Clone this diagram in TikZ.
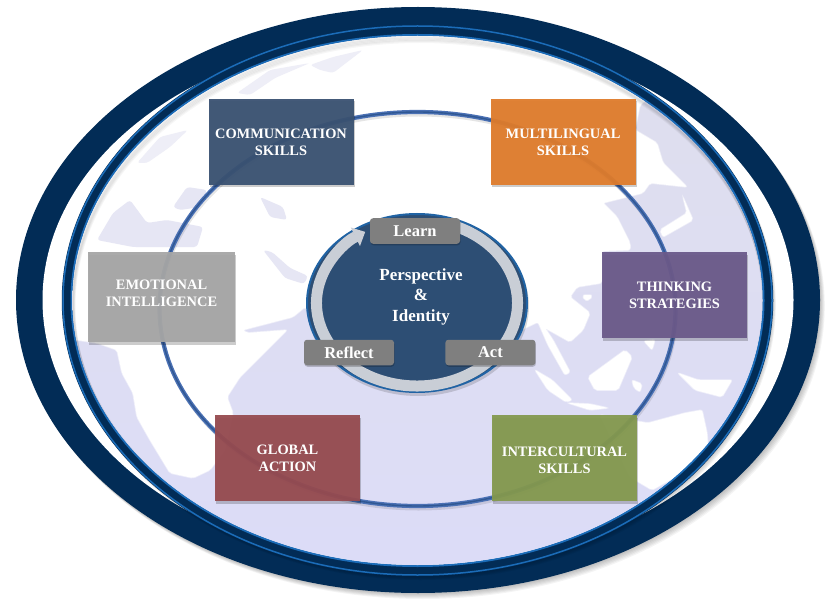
\documentclass[tikz,border=0pt]{standalone}
\usepackage{fontspec}
\setmainfont{Liberation Serif}
\usetikzlibrary{positioning,arrows.meta,shadows}
\definecolor{navy}{HTML}{022C56}
\definecolor{rimblue}{HTML}{1B6CB8}
\definecolor{sea}{HTML}{DCDCF8}
\definecolor{paleSea}{HTML}{E6E6F4}
\definecolor{farSea}{HTML}{EEEEF7}
\definecolor{ringblue}{HTML}{4A70B4}
\definecolor{hubblue}{HTML}{2D4E74}
\definecolor{cyclegrey}{HTML}{C9CED6}
\definecolor{chipgrey}{HTML}{7F7F7F}
\definecolor{commblue}{HTML}{3A5272}
\definecolor{multiorange}{HTML}{DF7C2C}
\definecolor{thinkviolet}{HTML}{6B5A8A}
\definecolor{intergreen}{HTML}{84994F}
\definecolor{globalred}{HTML}{964B50}
\definecolor{emogrey}{HTML}{A6A6A6}
\tikzset{
  skillbox/.style={
    rectangle,
    draw=none,
    fill opacity=.95,
    text opacity=1,
    text=white,
    align=center,
    inner sep=0pt,
    outer sep=0pt,
    minimum width=145pt,
    minimum height=86pt,
    font=\fontsize{14.4}{17}\selectfont\bfseries,
    drop shadow={shadow xshift=1pt, shadow yshift=-2.5pt, opacity=.2, fill=black}},
  stagechip/.style={
    rectangle,
    rounded corners=3pt,
    fill=chipgrey,
    text=white,
    inner sep=0pt,
    minimum width=90pt,
    minimum height=25.5pt,
    font=\fontsize{16.5}{18}\selectfont\bfseries,
    drop shadow={shadow xshift=.5pt, shadow yshift=-1.5pt, opacity=.2, fill=black}},
  hubtext/.style={
    text=white,
    align=center,
    font=\fontsize{17}{20.5}\selectfont\bfseries},
  cyclearrow/.style={
    draw=cyclegrey,
    line width=11pt,
    -{Triangle[length=11pt, width=20pt]}},
  landmass/.style={fill=white, draw=white, draw opacity=.5, line width=1.5pt, rounded corners=2pt},
  seawater/.style={fill=paleSea, rounded corners=3pt},
  fadedwater/.style={fill=farSea, rounded corners=3pt},
}
\begin{document}
\begin{tikzpicture}[x=1pt, y=-1pt, node distance=60pt]
	\useasboundingbox (0,0) rectangle (835,604);
	\fill[white] (0,0) rectangle (835,604);
	\coordinate (rim) at (418,300);
	\coordinate (band) at (417.5,300.5);
	\coordinate (mid) at (417.5,309);
	\coordinate (hub) at (417,303);

	\foreach \s in {1,2,3,4,5,6} {
		\fill[black, opacity=.045] ([shift={(\s*.8,\s)}]rim) ellipse [x radius=402, y radius=293];
	}
	\fill[navy] (rim) ellipse [x radius=402, y radius=293];
	\fill[white] (rim) ellipse [x radius=375.5, y radius=267];
	\foreach \s in {1,2,3,4} {
		\draw[black, opacity=.05, line width=10pt] ([shift={(\s*.7,\s)}]band) ellipse [x radius=350.5, y radius=270.5];
	}
	\draw[navy, line width=10.5pt] (band) ellipse [x radius=350.5, y radius=270.5];
	\draw[rimblue, line width=1.5pt] (band) ellipse [x radius=354.5, y radius=274.5];
	\draw[rimblue, line width=2pt] (band) ellipse [x radius=346, y radius=265.5];

	\begin{scope}
		\clip (band) ellipse [x radius=345, y radius=264.5];
		\shade[top color=sea!80!gray!60!white, bottom color=sea] (0,0) rectangle (835,604);
		\path[landmass] (40,330) -- (77,340) -- (97,343) -- (117,350) -- (122,373) -- (133,393) -- (137,417) -- (150,440)
			-- (170,473) -- (193,478) -- (210,470) -- (225,450) -- (233,413) -- (227,397) -- (240,377) -- (277,340)
			-- (287,330) -- (247,333) -- (243,330) -- (293,317) -- (305,307) -- (400,370) -- (500,340) -- (538,322)
			-- (548,345) -- (565,375) -- (570,372) -- (553,340) -- (545,328) -- (570,342) -- (583,330) -- (590,313)
			-- (570,297) -- (577,287) -- (602,283) -- (602,251) -- (630,250) -- (630,243) -- (617,217) -- (603,203)
			-- (643,193) -- (650,183) -- (687,187) -- (677,177) -- (663,163) -- (657,143) -- (635,130) -- (640,105)
			-- (660,88) -- (690,60) -- (700,0) -- (0,0) -- cycle;
		\path[landmass] (535,370) -- (552,380) -- (572,400) -- (566,402) -- (548,390) -- cycle;
		\path[landmass] (588,377) -- (625,350) -- (632,357) -- (618,390) -- (595,390) -- cycle;
		\path[landmass] (568,403) -- (590,404) -- (608,408) -- (590,410) -- cycle;
		\path[landmass] (678,373) -- (698,380) -- (732,380) -- (722,397) -- (695,390) -- cycle;
		\path[landmass] (600,415) -- (648,423) -- (685,413) -- (702,410) -- (707,433) -- (708,447) -- (688,470) -- (652,490) -- (630,477) -- cycle;
		\path[landmass] (683,197) -- (693,220) -- (663,237) -- (660,230) -- (687,213) -- cycle;
		\path[landmass] (583,295) -- (592,295) -- (590,300) -- (584,300) -- cycle;
		\path[landmass] (632,380) -- (642,384) -- (640,392) -- (634,388) -- cycle;
		\path[landmass] (644,341) -- (655,340) -- (652,350) -- cycle;
		\path[seawater] (97,240) -- (113,213) -- (130,200) -- (147,223) -- (167,220) -- (203,227) -- (197,247) -- (167,247) -- (133,247) -- cycle;
		\path[seawater] (173,207) -- (187,187) -- (207,190) -- (200,207) -- (180,210) -- cycle;
		\path[seawater] (260,197) -- (283,207) -- (287,220) -- (270,217) -- cycle;
		\path[seawater] (263,250) -- (272,252) -- (290,268) -- (308,276) -- (304,284) -- (285,278) -- cycle;
		\path[fadedwater] (137,163) -- (160,137) -- (188,130) -- (170,147) -- (147,163) -- cycle;
		\path[fadedwater] (237,93) -- (270,70) -- (310,63) -- (275,78) -- (250,95) -- cycle;
		\path[fadedwater] (310,65) -- (333,57) -- (363,50) -- (333,73) -- (320,70) -- cycle;
		\foreach \s in {1,2,3,4,5} {
			\draw[black, opacity=.035, line width=3pt] ([shift={(\s*.4,\s*1.2)}]band) ellipse [x radius=345.5, y radius=265];
		}
	\end{scope}

	\draw[black, opacity=.1, line width=3pt] ([shift={(1,3)}]mid) ellipse [x radius=258, y radius=197];
	\draw[ringblue, line width=4.2pt] (mid) ellipse [x radius=258, y radius=197];
	\draw[navy, opacity=.35, line width=1.4pt] (mid) ellipse [x radius=258, y radius=197];

	\node[skillbox, fill=commblue] (communication) at (281,142) {COMMUNICATION\\SKILLS};
	\node[skillbox, fill=multiorange, right=137pt of communication] (multilingual) {MULTILINGUAL\\SKILLS};
	\node[skillbox, fill=thinkviolet, below=67pt of multilingual, xshift=111.5pt] (thinking) {THINKING\\STRATEGIES};
	\node[skillbox, fill=intergreen, below=77pt of thinking, xshift=-110pt] (intercultural) {\mbox{}\\[-3pt]INTERCULTURAL\\SKILLS};
	\node[skillbox, fill=globalred, left=132pt of intercultural] (global) {GLOBAL\\ACTION};
	\node[skillbox, fill=emogrey, minimum width=147pt, minimum height=90pt, above=73pt of global, xshift=-126pt] (emotional) {EMOTIONAL\\INTELLIGENCE\\[-9pt]\mbox{}};

	\fill[black, opacity=.15] ([shift={(1,3)}]hub) ellipse [x radius=111, y radius=90];
	\draw[fill=hubblue, draw=rimblue!70!hubblue, line width=2pt] (hub) ellipse [x radius=110, y radius=89];
	\draw[cyclearrow] (hub) ++(-70:100.5 and 83) arc [start angle=-70, end angle=239, x radius=100.5, y radius=83];
	\node[hubtext] (identity) at (421,296.5) {Perspective\\\&\\Identity};
	\node[stagechip] (learn) at (415,231) {Learn};
	\node[stagechip] (reflect) at (349,352.5) {Reflect};
	\node[stagechip, right=51pt of reflect] (act) {Act};
\end{tikzpicture}
\end{document}
